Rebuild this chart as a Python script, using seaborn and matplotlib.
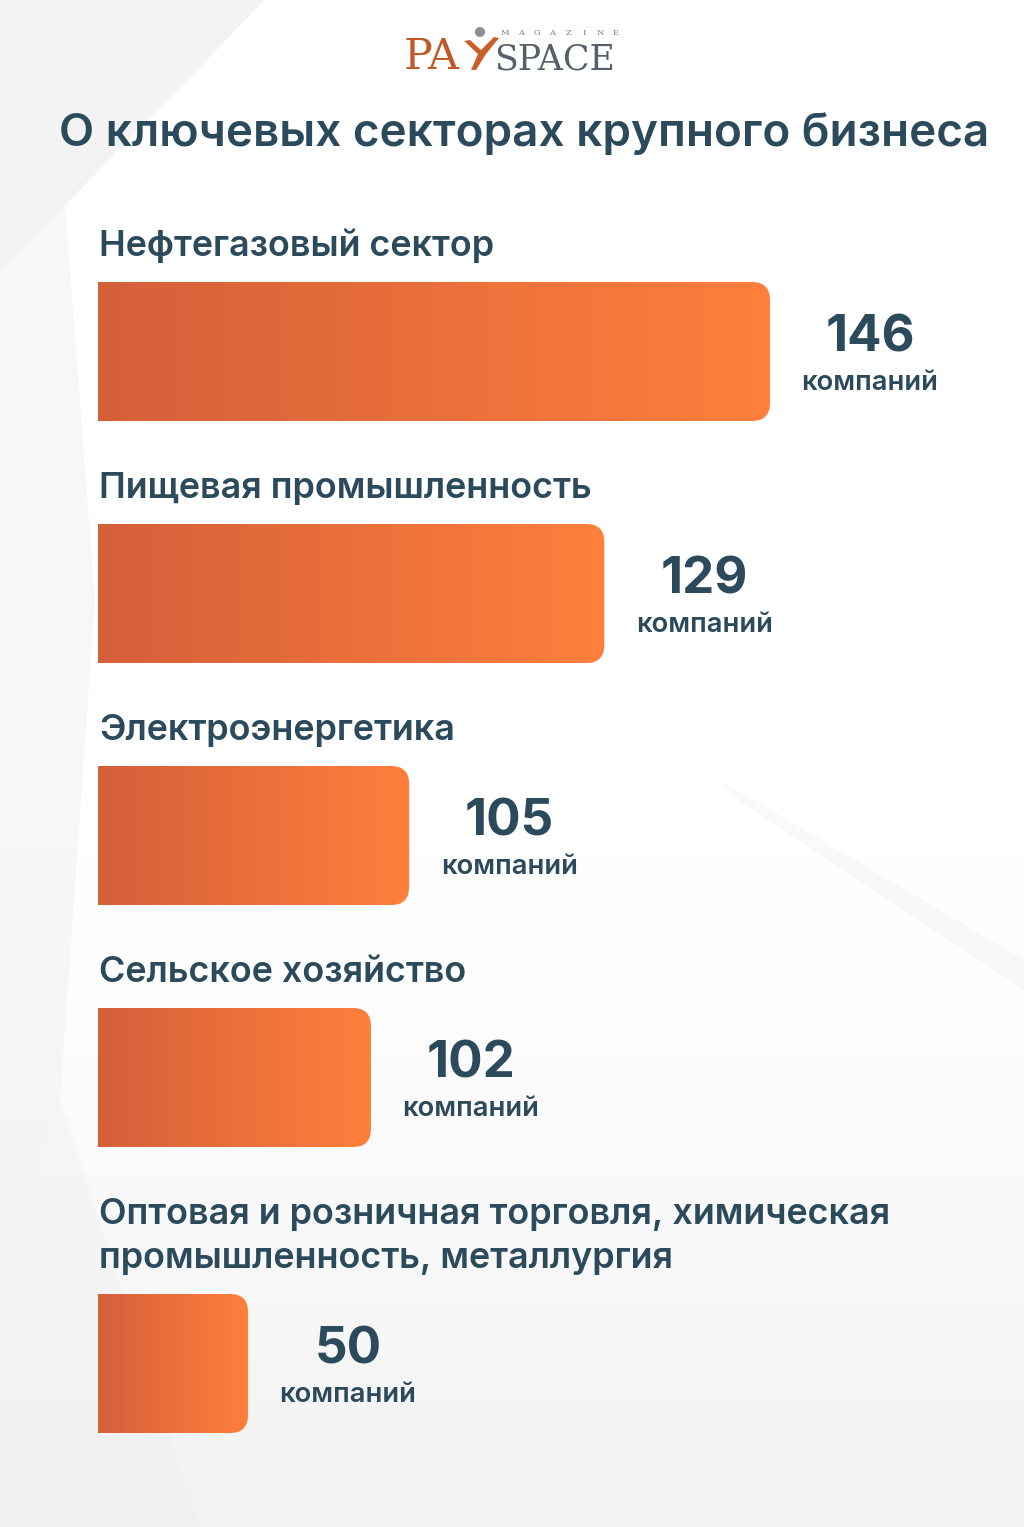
import numpy as np
import pandas as pd
import matplotlib
matplotlib.use("Agg")
import matplotlib.pyplot as plt
import seaborn as sns
from matplotlib.path import Path
from matplotlib.patches import PathPatch, Polygon, Circle
from matplotlib.colors import LinearSegmentedColormap

# ---------------- data ----------------
title = "О ключевых секторах крупного бизнеса"
sectors = [
    "Нефтегазовый сектор",
    "Пищевая промышленность",
    "Электроэнергетика",
    "Сельское хозяйство",
    "Оптовая и розничная торговля, химическая\nпромышленность, металлургия",
]
companies = [146, 129, 105, 102, 50]
# drawn bar lengths as they appear on the infographic (same scale as top bar = 146)
bar_length = [146, 110, 67.6, 59.3, 32.6]
unit_label = "компаний"

# ---------------- layout ----------------
W, H = 1024, 1527
bar_centers = [351.5, 593.5, 835.5, 1077.5, 1363.5]   # px from top
bar_px_height = 139
bar_left_px, top_bar_px = 98, 672
TEXT = "#2B4A5C"
C_LEFT, C_RIGHT = "#D4603A", "#FF7F3C"

sns.set_theme(style="white")
plt.rcParams["font.family"] = ["Inter", "DejaVu Sans"]

fig = plt.figure(figsize=(W / 100, H / 100), dpi=100)
fig.patch.set_facecolor("white")

# background / text axes in pixel coordinates
bg = fig.add_axes([0, 0, 1, 1])
bg.set_xlim(0, W)
bg.set_ylim(H, 0)
bg.axis("off")
vy = np.linspace(0, 1, 300)
shade = np.clip((vy - 0.55) / 0.45, 0, 1) ** 1.3
bg_cmap = LinearSegmentedColormap.from_list("bgc", ["#FFFFFF", "#F2F2F2"])
bg.imshow(shade.reshape(-1, 1), cmap=bg_cmap, vmin=0, vmax=1, extent=[0, W, H, 0], aspect="auto", zorder=0)
for pts, col, a in [
    ([(0, 0), (265, 0), (65, 205), (0, 270)], "#EFEFEF", 0.75),
    ([(0, 270), (65, 205), (95, 600), (60, 1100), (0, 1300)], "#F0F0F0", 0.5),
    ([(0, 1300), (60, 1100), (200, 1527), (0, 1527)], "#EEEEEE", 0.4),
    ([(720, 780), (1024, 960), (1024, 990), (735, 798)], "#EAEAEA", 0.25),
]:
    bg.add_patch(Polygon(pts, closed=True, facecolor=col, edgecolor="none", alpha=a, zorder=1))
bg.set_xlim(0, W)
bg.set_ylim(H, 0)

# logo
bg.text(404, 69, "PA", fontfamily="DejaVu Serif", fontsize=31, color="#C05A2B", va="baseline", ha="left", zorder=5)
bg.text(494, 69, "SPACE", fontfamily="DejaVu Serif", fontsize=25, color="#56606A", va="baseline", ha="left", zorder=5)
for i, ch in enumerate("MAGAZINE"):
    bg.text(505 + i * 15.8, 33, ch, fontfamily="DejaVu Serif", fontsize=6, color="#7A8088",
            va="center", ha="center", zorder=5)
bg.add_patch(Polygon([(464, 41), (470, 40), (481, 50), (494, 37), (499, 38), (486, 54), (476, 70), (471, 70), (478, 54)],
                     closed=True, facecolor="#C9602C", edgecolor="none", zorder=5))
bg.add_patch(Circle((480, 32), 5, facecolor="#8C9096", edgecolor="none", zorder=5))

# title
bg.text(524, 134, title, ha="center", va="center", fontsize=33, fontweight="semibold", color=TEXT, zorder=5)

# bars axes
ax = fig.add_axes([bar_left_px / W, 0, top_bar_px / W, 1])
ax.patch.set_alpha(0)
df = pd.DataFrame({"sector": sectors, "companies": companies,
                   "length": bar_length, "ypos": bar_centers})
sns.barplot(data=df, x="length", y="ypos", orient="h", native_scale=True,
            width=bar_px_height / 242, color=C_RIGHT, ax=ax)
ax.set_xlim(0, 146)
ax.set_ylim(H, 0)
ax.axis("off")

cmap = LinearSegmentedColormap.from_list("bar", [C_LEFT, C_RIGHT])
grad = np.linspace(0, 1, 256).reshape(1, -1)
xu = 146 / top_bar_px  # data units per px
r = 18
for p in list(ax.patches):
    x0 = p.get_x(); x1 = x0 + p.get_width()
    y0 = p.get_y(); y1 = y0 + p.get_height()
    ya, yb = min(y0, y1), max(y0, y1)
    rx = r * xu
    verts = [(x0, ya), (x1 - rx, ya), (x1, ya), (x1, ya + r), (x1, yb - r), (x1, yb), (x1 - rx, yb), (x0, yb), (x0, ya)]
    codes = [Path.MOVETO, Path.LINETO, Path.CURVE3, Path.CURVE3, Path.LINETO, Path.CURVE3, Path.CURVE3, Path.LINETO, Path.CLOSEPOLY]
    clip = PathPatch(Path(verts, codes), facecolor="none", edgecolor="none", transform=ax.transData)
    ax.add_patch(clip)
    im = ax.imshow(grad, cmap=cmap, extent=[x0, x1, yb, ya], aspect="auto", zorder=3, interpolation="bicubic")
    im.set_clip_path(clip)
    p.set_visible(False)
ax.set_xlim(0, 146)
ax.set_ylim(H, 0)

# labels
for name, val, ln, yc in zip(sectors, companies, bar_length, bar_centers):
    top = yc - bar_px_height / 2
    ax.annotate(name, xy=(0, top), xytext=(1 * 0.72, 26 * 0.72), textcoords="offset points",
                ha="left", va="baseline", fontsize=25.9, fontweight="semibold", color=TEXT,
                annotation_clip=False, linespacing=1.42)
    ax.annotate(f"{val}", xy=(ln, yc), xytext=(100 * 0.72, 13 * 0.72), textcoords="offset points",
                ha="center", va="center", fontsize=36.7, fontweight="bold", color=TEXT, annotation_clip=False)
    ax.annotate(unit_label, xy=(ln, yc), xytext=(100 * 0.72, -31 * 0.72), textcoords="offset points",
                ha="center", va="center", fontsize=19.7, fontweight="semibold", color=TEXT, annotation_clip=False)

fig.savefig("out.png", dpi=100, facecolor=fig.get_facecolor())
